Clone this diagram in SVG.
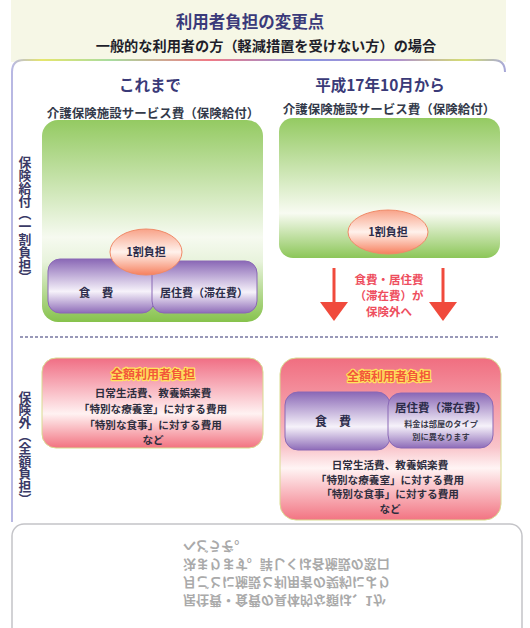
<svg xmlns="http://www.w3.org/2000/svg" width="530" height="628" viewBox="0 0 530 628">
<defs>
<style>
text{font-family:"Noto Sans CJK JP","Noto Sans CJK SC",sans-serif;font-weight:700;fill:#2c2c4a}
.c{text-anchor:middle}
.hd{fill:#3a3a78;font-size:15.5px}
.lbl{font-size:12.5px;fill:#333a4a}
.body{font-size:10.6px;fill:#2e2e3e}
.full{font-size:12px;fill:#f2583a;stroke:#ffe45c;stroke-width:2.4px;paint-order:stroke;stroke-linejoin:round}
.vert{writing-mode:vertical-rl;font-size:12.8px;text-anchor:middle;fill:#3a3a66}
.ghost{font-size:13px;fill:#aaaaaa;font-weight:700}
.red{fill:#ee4e5e;font-size:11.5px}
</style>
<linearGradient id="gL" x1="0" y1="0" x2="0" y2="1">
<stop offset="0" stop-color="#94ca62"/><stop offset="0.58" stop-color="#f6faf0"/><stop offset="0.7" stop-color="#e8f3dc"/><stop offset="1" stop-color="#86c24c"/>
</linearGradient>
<linearGradient id="gR" x1="0" y1="0" x2="0" y2="1">
<stop offset="0" stop-color="#94ca62"/><stop offset="0.68" stop-color="#f8fbf2"/><stop offset="1" stop-color="#8cc658"/>
</linearGradient>
<linearGradient id="pu" x1="0" y1="0" x2="0" y2="1">
<stop offset="0" stop-color="#8a68b6"/><stop offset="0.6" stop-color="#f6f2fa"/><stop offset="1" stop-color="#8e6cb8"/>
</linearGradient>
<linearGradient id="pk" x1="0" y1="0" x2="0" y2="1">
<stop offset="0" stop-color="#f06e84"/><stop offset="0.62" stop-color="#fff2f2"/><stop offset="1" stop-color="#f27280"/>
</linearGradient>
<linearGradient id="pk2" x1="0" y1="0" x2="0" y2="1">
<stop offset="0" stop-color="#f06e80"/><stop offset="0.55" stop-color="#f9c4ca"/><stop offset="0.68" stop-color="#fff4f4"/><stop offset="1" stop-color="#f27482"/>
</linearGradient>
<linearGradient id="or" x1="0" y1="0" x2="0" y2="1">
<stop offset="0" stop-color="#f8a288"/><stop offset="0.5" stop-color="#fff2ec"/><stop offset="1" stop-color="#f6805e"/>
</linearGradient>
<linearGradient id="rb" x1="0" y1="0" x2="1" y2="0">
<stop offset="0" stop-color="#b8b8e4"/><stop offset="0.06" stop-color="#e6e66c"/><stop offset="0.2" stop-color="#a8dca0"/><stop offset="0.4" stop-color="#f07a86"/><stop offset="0.6" stop-color="#8a94e0"/><stop offset="0.78" stop-color="#b090d0"/><stop offset="0.92" stop-color="#d6e070"/><stop offset="1" stop-color="#a8a8d8"/>
</linearGradient>
</defs>
<rect x="0" y="0" width="530" height="628" fill="#ffffff"/>
<rect x="11" y="0" width="495" height="62" fill="#f6f7e6"/>
<path d="M12,522 V72 Q12,60 24,60 H493 Q505,60 505,72" fill="#ffffff" stroke="url(#rb)" stroke-width="2"/>
<rect x="12" y="524" width="510" height="120" rx="12" fill="#ffffff" stroke="#c4c4c8" stroke-width="1.5"/>

<g id="header">
<text class="c" x="250" y="28" style="font-size:16.5px;fill:#3a3a7a">利用者負担の変更点</text>
<text class="c" x="266" y="51" style="font-size:14.2px;fill:#1e1e2a">一般的な利用者の方（軽減措置を受けない方）の場合</text>
<text class="c hd" x="150" y="91">これまで</text>
<text class="c hd" x="380" y="91">平成17年10月から</text>
</g>

<g id="side-labels">
<text class="vert" x="25" y="220">保険給付（一割負担）</text>
<text class="vert" x="25" y="448">保険外（全額負担）</text>
</g>

<g id="left-insured">
<text class="c lbl" x="153" y="118">介護保険施設サービス費（保険給付）</text>
<rect x="42" y="120" width="221" height="202" rx="16" fill="url(#gL)"/>
<rect x="48" y="259" width="106" height="54" rx="12" fill="url(#pu)" stroke="#8a68b6" stroke-width="1"/>
<rect x="152" y="261" width="105" height="52" rx="12" fill="url(#pu)" stroke="#8a68b6" stroke-width="1"/>
<ellipse cx="146" cy="252" rx="36" ry="23" fill="url(#or)" stroke="#f08a68" stroke-width="1"/>
<text class="c" x="146" y="256" style="font-size:11px">1割負担</text>
<text class="c" x="96" y="297" style="font-size:11.5px">食　費</text>
<text class="c" x="204" y="297" style="font-size:11px">居住費（滞在費）</text>
</g>

<g id="right-insured">
<text class="c lbl" x="389" y="114">介護保険施設サービス費（保険給付）</text>
<rect x="279" y="118" width="221" height="140" rx="14" fill="url(#gR)"/>
<ellipse cx="388" cy="232" rx="40" ry="22" fill="url(#or)" stroke="#f08a68" stroke-width="1"/>
<text class="c" x="388" y="236" style="font-size:11px">1割負担</text>
</g>

<g id="connectors">
<line x1="334" y1="268" x2="334" y2="304" stroke="#f04a3c" stroke-width="3"/>
<polygon points="320,302 348,302 334,321" fill="#f04a3c"/>
<line x1="443" y1="268" x2="443" y2="304" stroke="#f04a3c" stroke-width="3"/>
<polygon points="429,302 457,302 443,321" fill="#f04a3c"/>
</g>

<g id="arrow-label">
<text class="c red" x="389" y="284">食費・居住費</text>
<text class="c red" x="389" y="300">（滞在費）が</text>
<text class="c red" x="389" y="316">保険外へ</text>
</g>

<line x1="20" y1="337" x2="500" y2="337" stroke="#9898b8" stroke-width="2" stroke-dasharray="3 2"/>

<g id="left-uninsured">
<rect x="42" y="358" width="221" height="90" rx="14" fill="url(#pk)" stroke="#d8dc90" stroke-width="1"/>
<text class="c full" x="153" y="379">全額利用者負担</text>
<text class="c body" x="153" y="397">日常生活費、教養娯楽費</text>
<text class="c body" x="153" y="413">「特別な療養室」に対する費用</text>
<text class="c body" x="153" y="429">「特別な食事」に対する費用</text>
<text class="c body" x="153" y="444">など</text>
</g>

<g id="right-uninsured">
<rect x="280" y="358" width="221" height="162" rx="16" fill="url(#pk2)" stroke="#d8dc90" stroke-width="1"/>
<text class="c full" x="389" y="381">全額利用者負担</text>
<rect x="285" y="392" width="105" height="58" rx="13" fill="url(#pu)" stroke="#8a68b6" stroke-width="1"/>
<rect x="388" y="393" width="105" height="55" rx="13" fill="url(#pu)" stroke="#8a68b6" stroke-width="1"/>
<text class="c" x="333" y="426" style="font-size:12px">食　費</text>
<text class="c" x="441" y="412" style="font-size:11.5px">居住費（滞在費）</text>
<text class="c" x="441" y="427" style="font-size:8.2px;fill:#3a3a4a">料金は部屋のタイプ</text>
<text class="c" x="441" y="440" style="font-size:8.2px;fill:#3a3a4a">別に異なります</text>
<text class="c body" x="390" y="469">日常生活費、教養娯楽費</text>
<text class="c body" x="390" y="483.5">「特別な療養室」に対する費用</text>
<text class="c body" x="390" y="498">「特別な食事」に対する費用</text>
<text class="c body" x="390" y="512.5">など</text>
</g>

<g id="show-through" transform="translate(0,1148) scale(1,-1)">
<text class="ghost" x="183" y="552">居住費・食費の具体的な額は、1か</text>
<text class="ghost" x="183" y="570">月ごとに施設と利用者の契約により</text>
<text class="ghost" x="183" y="588">決まります。詳しくは各施設の窓口</text>
<text class="ghost" x="183" y="606">へどうぞ。</text>
</g>
</svg>
